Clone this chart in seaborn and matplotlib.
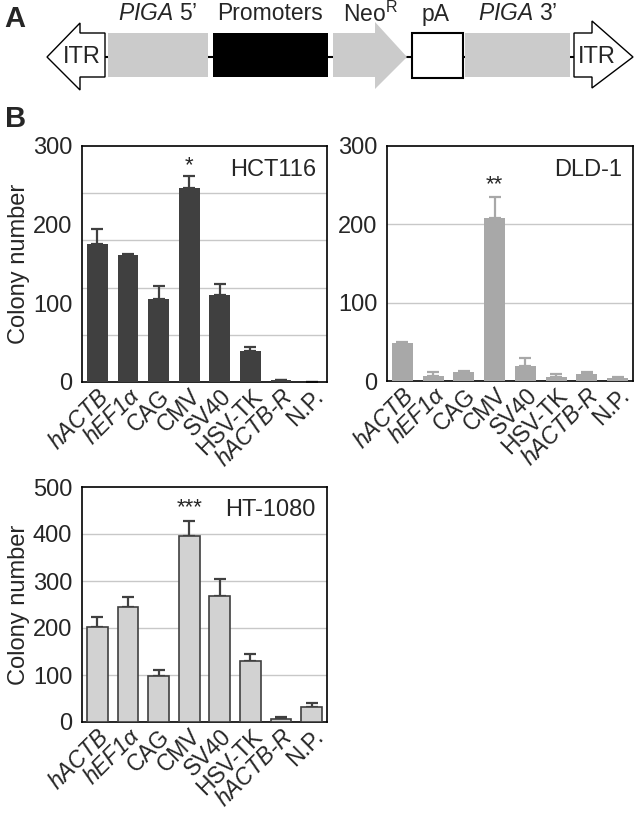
import matplotlib
matplotlib.use("Agg")
import matplotlib.pyplot as plt
from matplotlib.patches import Polygon, Rectangle
import numpy as np
import pandas as pd
import seaborn as sns

sns.set_theme(style="white")
plt.rcParams['font.family'] = ['Liberation Sans', 'DejaVu Sans']
plt.rcParams['mathtext.fontset'] = 'custom'
plt.rcParams['mathtext.rm'] = 'Liberation Sans'
plt.rcParams['mathtext.it'] = 'Liberation Sans:italic'
plt.rcParams['mathtext.bf'] = 'Liberation Sans:bold'

# ---------------- data ----------------
promoters = ["hACTB", "hEF1α", "CAG", "CMV", "SV40", "HSV-TK", "hACTB-R", "N.P."]
italic_labels = ["hACTB", "hEF1α", "hACTB-R"]

hct116_mean = [176, 161, 105, 246, 111, 39, 2, 0.5]
hct116_err = [19, 2, 17, 16, 13, 6, 1, 0]

dld1_mean = [48, 7, 11, 208, 19, 5, 9, 4]
dld1_err = [1.5, 4, 2, 27, 11, 4, 2.5, 1.5]

ht1080_mean = [203, 244, 97, 395, 268, 130, 7, 32]
ht1080_err = [21, 23, 13, 33, 36, 14, 4, 8]

cell_lines = ["HCT116", "DLD-1", "HT-1080"]
stars = ["*", "**", "***"]

W, H = 638, 819
fig = plt.figure(figsize=(W / 100, H / 100), dpi=100)

# ---------------- overlay for panel A ----------------
ov = fig.add_axes([0, 0, 1, 1])
ov.set_xlim(0, W)
ov.set_ylim(H, 0)
ov.axis("off")
ov.patch.set_visible(False)

gray = "#cbcbcb"
ov.plot([105, 574], [57, 57], color="black", lw=1.5, zorder=1)
ov.add_patch(Polygon([(47, 57), (80, 23), (80, 33), (105, 33), (105, 77), (80, 77), (80, 90)],
                     closed=True, facecolor="white", edgecolor="black", lw=1.0, zorder=2))
ov.add_patch(Rectangle((108, 33), 100, 44, facecolor=gray, edgecolor="none", zorder=2))
ov.add_patch(Rectangle((213, 33), 115, 44, facecolor="black", edgecolor="none", zorder=2))
ov.add_patch(Polygon([(333, 33), (375, 33), (375, 22), (407, 57), (375, 89), (375, 77), (333, 77)],
                     closed=True, facecolor=gray, edgecolor="none", zorder=2))
ov.add_patch(Rectangle((412, 33), 51, 45, facecolor="white", edgecolor="black", lw=1.5, zorder=2))
ov.add_patch(Rectangle((465, 33), 105, 44, facecolor=gray, edgecolor="none", zorder=2))
ov.add_patch(Polygon([(574, 33), (592, 33), (592, 21), (633, 57), (592, 88), (592, 77), (574, 77)],
                     closed=True, facecolor="white", edgecolor="black", lw=1.0, zorder=2))
fs = 16.5
ov.text(82, 57, "ITR", ha="center", va="center", fontsize=17, zorder=3)
ov.text(597, 57, "ITR", ha="center", va="center", fontsize=17, zorder=3)
ov.text(158, 14, r"$\mathit{PIGA}$ 5’", ha="center", va="center", fontsize=fs)
ov.text(270, 14, "Promoters", ha="center", va="center", fontsize=fs)
ov.text(370, 14, r"Neo$^{\mathrm{R}}$", ha="center", va="center", fontsize=fs)
ov.text(436, 14, "pA", ha="center", va="center", fontsize=fs)
ov.text(518, 14, r"$\mathit{PIGA}$ 3’", ha="center", va="center", fontsize=fs)
ov.text(15, 19, "A", ha="center", va="center", fontsize=21, fontweight="bold")
ov.text(16, 119, "B", ha="center", va="center", fontsize=21, fontweight="bold")


def px_axes(l, t, r, b):
    return fig.add_axes([l / W, (H - b) / H, (r - l) / W, (b - t) / H])


def panel(ax, means, errs, fc, ec, elw, errc, ymax, grid, yticks, name, star, star_y, ylabel):
    df = pd.DataFrame({"promoter": promoters, "n": means})
    sns.barplot(data=df, x="promoter", y="n", ax=ax, color=fc, saturation=1,
                width=0.68, edgecolor=ec, linewidth=elw, zorder=3)
    x = np.arange(len(promoters))
    ax.errorbar(x, means, yerr=[np.zeros(len(errs)), errs], fmt="none",
                ecolor=errc, elinewidth=1.6, capsize=4.5, capthick=1.6, zorder=2)
    ax.set_ylim(0, ymax)
    ax.set_xlim(-0.5, len(promoters) - 0.5)
    for g in grid:
        ax.axhline(g, color="#c8c8c8", lw=1.0, zorder=0)
    ax.set_yticks(yticks)
    ax.set_yticklabels([str(t) for t in yticks], fontsize=17)
    ax.tick_params(axis="y", length=0, pad=7)
    ax.tick_params(axis="x", length=0, pad=2)
    ax.set_xticks(x)
    ax.set_xticklabels(promoters, rotation=45, ha="right", va="top",
                       rotation_mode="anchor", fontsize=16.5)
    for lab in ax.get_xticklabels():
        if lab.get_text() in italic_labels:
            lab.set_fontstyle("italic")
    ax.set_xlabel("")
    if ylabel:
        ax.set_ylabel("Colony number", fontsize=17, labelpad=2)
    else:
        ax.set_ylabel("")
    for s in ax.spines.values():
        s.set_visible(True)
        s.set_color("black")
        s.set_linewidth(1.2)
    ax.text(0.955, 0.9, name, transform=ax.transAxes, ha="right", va="center", fontsize=17)
    ax.text(3, star_y, star, ha="center", va="center", fontsize=16)


ax1 = px_axes(82, 146, 327, 382)
panel(ax1, hct116_mean, hct116_err, "#404040", "#404040", 0, "#404040", 300,
      [60, 120, 180, 240], [0, 100, 200, 300], cell_lines[0], stars[0], 275, True)

ax2 = px_axes(387, 146, 633, 381)
panel(ax2, dld1_mean, dld1_err, "#a8a8a8", "#a8a8a8", 0, "#a8a8a8", 300,
      [100, 200], [0, 100, 200, 300], cell_lines[1], stars[1], 250, False)

ax3 = px_axes(82, 487, 327, 722)
panel(ax3, ht1080_mean, ht1080_err, "#d2d2d2", "#404040", 1.2, "#404040", 500,
      [100, 200, 300, 400], [0, 100, 200, 300, 400, 500], cell_lines[2], stars[2], 455, True)

fig.savefig("out.png", dpi=100)
